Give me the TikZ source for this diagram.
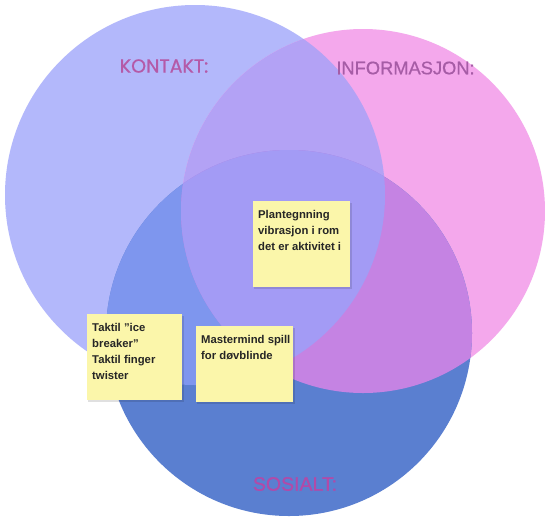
\documentclass[tikz,border=0pt]{standalone}
\usepackage{fontspec}
\setmainfont{Liberation Sans}
\newfontfamily\titlefont[FakeBold=0.7]{Poppins}
\newfontfamily\headfont[FakeBold=0.6]{Liberation Sans}
\begin{document}
\definecolor{cA}{HTML}{B3B8FB}
\definecolor{cB}{HTML}{F4A8EC}
\definecolor{cC}{HTML}{5A7FD0}
\definecolor{cAB}{HTML}{B3A2F5}
\definecolor{cAC}{HTML}{7E96EE}
\definecolor{cBC}{HTML}{C583E3}
\definecolor{cABC}{HTML}{A39BF5}
\definecolor{note}{HTML}{FBF6AA}
\definecolor{labelA}{HTML}{B45AA8}
\definecolor{labelB}{HTML}{A65CA6}
\definecolor{labelC}{HTML}{B24AA8}
% text of a sticky note: fixed box, lines start at the top
\newcommand{\notetext}[3]{\parbox[c][#2][t]{#1}{\vspace*{9pt}\leftskip=5pt #3}}
\begin{tikzpicture}[x=1pt,y=-1pt,
  sticky/.style={fill=note, draw=none, inner sep=0pt, anchor=north west,
    align=left, font=\bfseries\fontsize{11.3}{16}\selectfont, text=black!85},
  shade/.style={fill=black, opacity=0.12},
  settitle/.style={font=#1}]
\useasboundingbox (0,0) rectangle (545,520);
\fill[white] (0,0) rectangle (545,520);
% circle centres
\coordinate (oA) at (195,195);
\coordinate (oB) at (363,211);
\coordinate (oC) at (289,333);
\def\rA{190}\def\rB{182}\def\rC{183}
% single regions
\fill[cA] (oA) circle (\rA);
\fill[cB] (oB) circle (\rB);
\fill[cC] (oC) circle (\rC);
% pairwise overlaps
\begin{scope}\clip (oA) circle (\rA); \fill[cAB] (oB) circle (\rB);\end{scope}
\begin{scope}\clip (oA) circle (\rA); \fill[cAC] (oC) circle (\rC);\end{scope}
\begin{scope}\clip (oB) circle (\rB); \fill[cBC] (oC) circle (\rC);\end{scope}
% common part of all three
\begin{scope}\clip (oA) circle (\rA); \clip (oB) circle (\rB); \fill[cABC] (oC) circle (\rC);\end{scope}
% set titles
\node[settitle=\titlefont\fontsize{19}{22}\selectfont, text=labelA] (tA) at (164,66) {KONTAKT:};
\node[settitle=\headfont\fontsize{18.3}{22}\selectfont, text=labelB] (tB) at (405.5,68) {INFORMASJON:};
\node[settitle=\headfont\fontsize{19.5}{22}\selectfont, text=labelC] (tC) at (295,484) {SOSIALT:};
% sticky notes with a faint drop shadow
\fill[shade] (254,203) rectangle (352,289);
\fill[shade] (88,316) rectangle (184,402);
\fill[shade] (197,328) rectangle (295,404);
\node[sticky] (n1) at (253,201)
  {\notetext{97pt}{86pt}{Plantegnning\\vibrasjon i rom\\det er aktivitet i}};
\node[sticky] (n2) at (87,314)
  {\notetext{95pt}{86pt}{Taktil \char"22 ice\\breaker\char"22\\Taktil finger\\twister}};
\node[sticky] (n3) at (196,326)
  {\notetext{97pt}{76pt}{Mastermind spill\\for døvblinde}};
\end{tikzpicture}
\end{document}
